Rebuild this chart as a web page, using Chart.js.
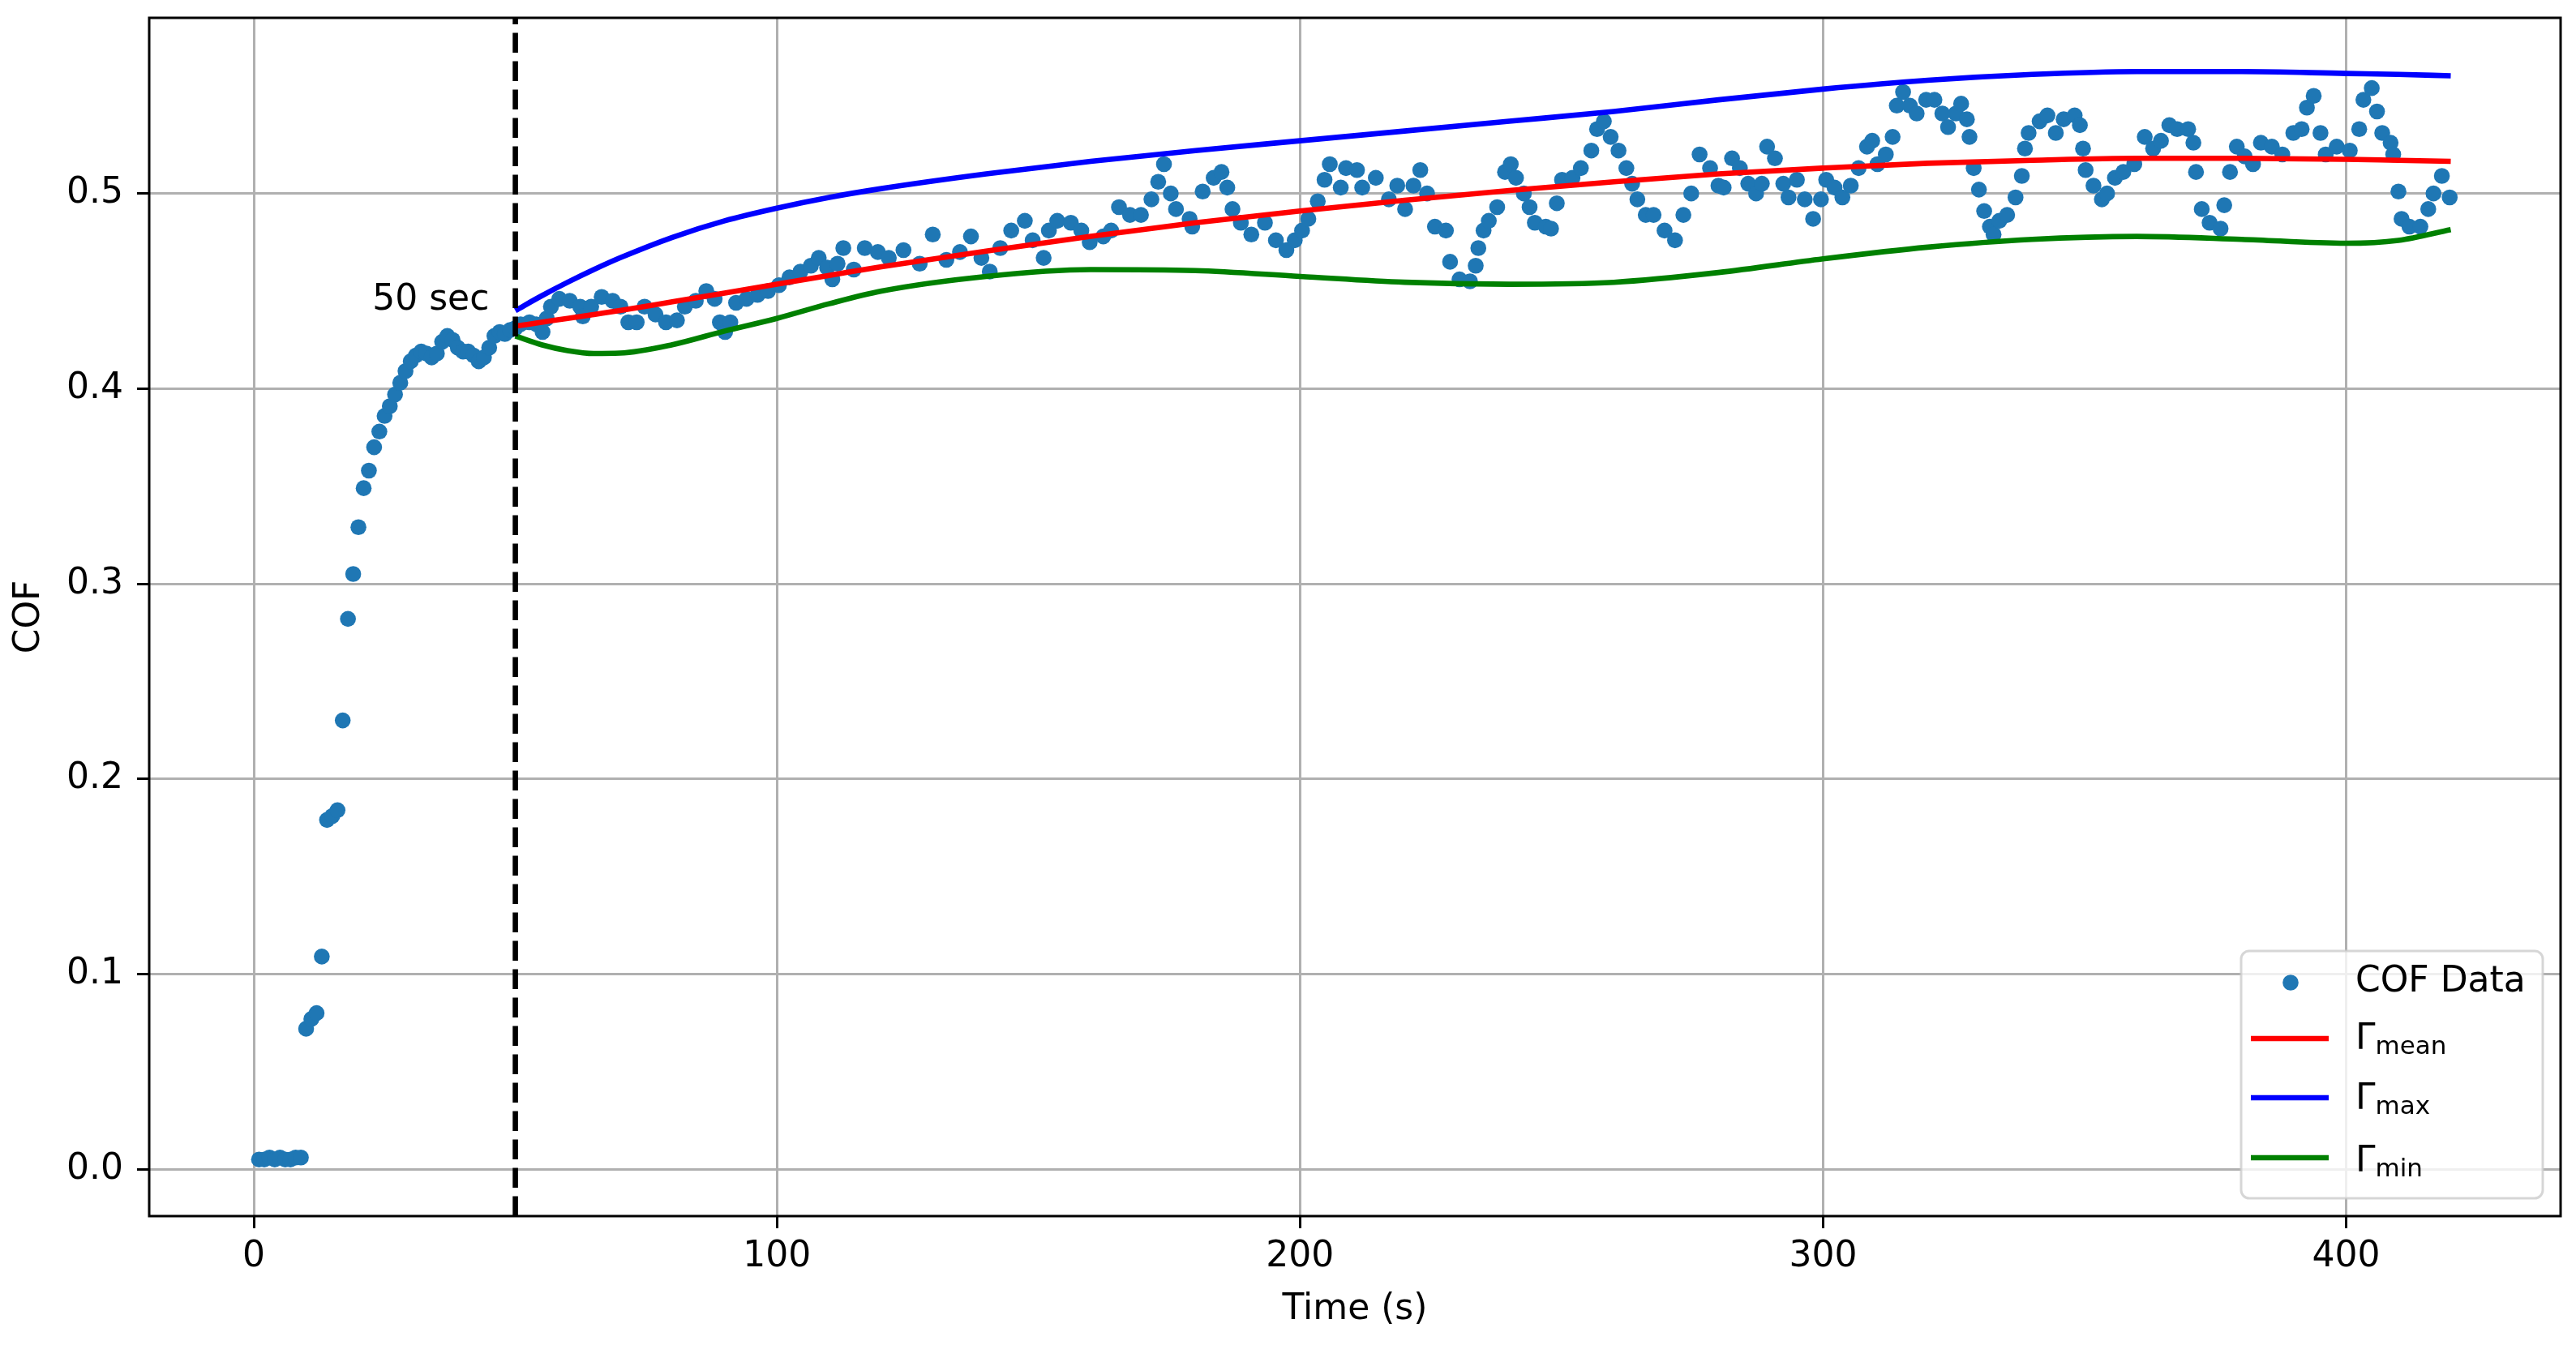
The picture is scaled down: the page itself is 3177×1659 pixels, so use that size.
<!DOCTYPE html>
<html>
<head>
<meta charset="utf-8">
<title>COF vs Time</title>
<script src="https://cdn.jsdelivr.net/npm/chart.js@4.4.1/dist/chart.umd.min.js"></script>
<style>
  html, body { margin: 0; padding: 0; background: #fff; }
  #chartBox { width: 3177px; height: 1659px; }
</style>
</head>
<body>
<div id="chartBox"><canvas id="cofChart" width="3177" height="1659"></canvas></div>
<script>
const cofTime = [
  1, 2, 3, 4, 5, 6, 7, 8, 9, 10, 11, 12, 13, 14, 15, 16, 17, 18, 19, 20, 21, 22, 23, 24, 25,
  26, 27, 28, 29, 30, 31, 32, 33, 34, 35, 36, 37, 38, 39, 40, 41, 42, 43, 44, 45, 46, 47, 48, 49, 50,
  51, 52.7, 54, 55.2, 56, 56.8, 58.4, 60.4, 62.4, 62.9, 64.5, 66.5, 68.6, 70.1, 71.6, 73.2, 74.7, 76.8, 78.8, 80.9, 82.4, 84.5,
  86.5, 88.1, 89.1, 90.1, 91.1, 92.2, 94.2, 96.3, 98.3, 100.4, 102.4, 104.5, 106.5, 108, 109.6, 110.6, 111.6, 112.7, 114.7, 116.8, 119.3, 121.4,
  124.2, 127.3, 129.8, 132.4, 135, 137.1, 139.1, 140.7, 142.7, 144.8, 147.4, 148.9, 151, 152, 153.6, 156.2, 158.2, 159.8, 162.4, 163.9, 165.4,
  167.5, 169.6, 171.6, 172.9, 174, 175.3, 176.3, 178.9, 179.4, 181.4, 183.5, 185, 186.1, 187.1, 188.7, 190.7, 193.3, 195.4, 197.4, 199,
  200.4, 201.6, 203.4, 204.7, 205.7, 207.8, 208.8, 210.9, 211.9, 214.5, 217, 218.6, 220.1, 221.7, 223, 224.3, 225.8, 227.9, 228.7, 230.5, 232.5,
  233.6, 234.1, 235.1, 236.1, 237.7, 239.2, 240.3, 241.3, 242.8, 243.9, 244.9, 247, 248, 249.1, 250.1, 252.1, 253.7, 255.7, 256.8, 258.1, 259.4,
  260.9, 262.4, 263.5, 264.5, 266.1, 267.6, 269.7, 271.7, 273.3, 274.8, 276.4,
  278.4, 280, 281, 282.6, 284.1, 285.7, 287.2, 288.3, 289.3, 290.8, 292.4, 293.4, 295, 296.5, 298.1, 299.6, 300.6, 302.2, 303.7, 305.3,
  306.8, 308.4, 309.4, 310.4, 312, 313.3, 314.1, 315.3, 316.6, 317.9, 319.7, 321.3, 322.8, 323.9, 325.4, 326.4, 327.5, 328, 328.8, 329.8,
  330.8, 331.9, 332.6, 333.7, 335.2, 336.8, 338, 338.6, 339.3, 341.4, 342.9, 344.5, 346, 348.1, 349.1, 349.7, 350.2, 351.7, 353.3,
  354.3, 355.8, 357.4, 359.5, 361.5, 363.1, 364.6, 366.2, 367.7, 369.8, 370.8, 371.3, 372.4, 373.9, 376, 376.7, 377.8, 379.1, 380.6, 382.2,
  383.7, 385.8, 387.8, 389.9, 391.5, 392.5, 393.8, 395.1, 396.1, 398.2, 400.7, 402.5, 403.3, 404.9, 405.9, 406.9, 408.5, 409, 410, 410.6,
  412.1, 414.2, 415.7, 416.7, 418.3, 419.8
];
const cofValue = [
  0.005, 0.005, 0.006, 0.005, 0.006, 0.005, 0.005, 0.006, 0.006, 0.072, 0.077, 0.080, 0.109, 0.179, 0.181, 0.184, 0.230, 0.282, 0.305, 0.329, 0.349, 0.358, 0.370, 0.378, 0.386,
  0.391, 0.397, 0.403, 0.409, 0.414, 0.417, 0.419, 0.418, 0.416, 0.418, 0.424, 0.427, 0.425, 0.421, 0.419, 0.419, 0.417, 0.414, 0.416, 0.421, 0.427, 0.429, 0.428, 0.430, 0.431,
  0.433, 0.434, 0.433, 0.429, 0.436, 0.442, 0.446, 0.445, 0.442, 0.437, 0.442, 0.447, 0.445, 0.442, 0.434, 0.434, 0.442, 0.438, 0.434, 0.435, 0.442, 0.445,
  0.450, 0.446, 0.434, 0.429, 0.434, 0.444, 0.446, 0.448, 0.450, 0.453, 0.457, 0.460, 0.463, 0.467, 0.462, 0.456, 0.464, 0.472, 0.461, 0.472, 0.470, 0.467,
  0.471, 0.464, 0.479, 0.466, 0.470, 0.478, 0.467, 0.460, 0.472, 0.481, 0.486, 0.476, 0.467, 0.481, 0.486, 0.485, 0.481, 0.475, 0.478, 0.481, 0.493,
  0.489, 0.489, 0.497, 0.506, 0.515, 0.500, 0.492, 0.487, 0.483, 0.501, 0.508, 0.511, 0.503, 0.492, 0.485, 0.479, 0.485, 0.476, 0.471, 0.476,
  0.481, 0.487, 0.496, 0.507, 0.515, 0.503, 0.513, 0.512, 0.503, 0.508, 0.497, 0.504, 0.492, 0.504, 0.512, 0.500, 0.483, 0.481, 0.465, 0.456, 0.455,
  0.463, 0.472, 0.481, 0.486, 0.493, 0.511, 0.515, 0.508, 0.500, 0.493, 0.485, 0.483, 0.482, 0.495, 0.507, 0.508, 0.513, 0.522, 0.533, 0.537, 0.529,
  0.522, 0.513, 0.505, 0.497, 0.489, 0.489, 0.481, 0.476, 0.489, 0.500, 0.520,
  0.513, 0.504, 0.503, 0.518, 0.513, 0.505, 0.500, 0.505, 0.524, 0.518, 0.505, 0.498, 0.507, 0.497, 0.487, 0.497, 0.507, 0.503, 0.498, 0.504,
  0.513, 0.524, 0.527, 0.515, 0.520, 0.529, 0.545, 0.552, 0.545, 0.541, 0.548, 0.548, 0.541, 0.534, 0.541, 0.546, 0.538, 0.529, 0.513, 0.502,
  0.491, 0.483, 0.479, 0.486, 0.489, 0.498, 0.509, 0.523, 0.531, 0.537, 0.540, 0.531, 0.538, 0.540, 0.535, 0.523, 0.512, 0.504, 0.497,
  0.500, 0.508, 0.511, 0.515, 0.529, 0.523, 0.527, 0.535, 0.533, 0.533, 0.526, 0.511, 0.492, 0.485, 0.482, 0.494, 0.511, 0.524, 0.519, 0.515,
  0.526, 0.524, 0.520, 0.531, 0.533, 0.544, 0.550, 0.531, 0.520, 0.524, 0.522, 0.533, 0.548, 0.554, 0.542, 0.531, 0.526, 0.520, 0.501, 0.487,
  0.483, 0.483, 0.492, 0.500, 0.509, 0.498
];

// Fitted curves after the 50 s run-in
const fitTime = [50, 55, 60, 65, 70, 80, 90, 100, 110, 120, 140, 160, 180, 200, 220, 240, 260, 280, 300, 320, 340, 360, 380, 400, 410, 420];
const meanValue = [0.432, 0.434, 0.436, 0.438, 0.440, 0.4445, 0.449, 0.4535, 0.458, 0.4625, 0.4705, 0.478, 0.485, 0.491, 0.4965, 0.5015, 0.506, 0.510, 0.513, 0.5155, 0.517, 0.518, 0.518, 0.5175, 0.517, 0.5165];
const maxValue = [0.440, 0.4475, 0.4545, 0.461, 0.467, 0.4775, 0.486, 0.4925, 0.498, 0.5025, 0.510, 0.5165, 0.522, 0.527, 0.532, 0.537, 0.542, 0.548, 0.5535, 0.558, 0.561, 0.5625, 0.5625, 0.5615, 0.561, 0.5603];
const minValue = [0.427, 0.4225, 0.4195, 0.418, 0.4182, 0.4225, 0.4295, 0.436, 0.4435, 0.450, 0.4575, 0.461, 0.4605, 0.4575, 0.4545, 0.4535, 0.4545, 0.4595, 0.4665, 0.4725, 0.4765, 0.478, 0.4765, 0.4745, 0.476, 0.4815];

const xTicks = [0, 100, 200, 300, 400];
const yTicks = [0, 0.1, 0.2, 0.3, 0.4, 0.5];

const runInTime = 50;
const runInLabel = '50 sec';

const legendLabels = ['COF Data', 'Γ', 'Γ', 'Γ'];
const legendSubs = ['', 'mean', 'max', 'min'];
const legendColors = ['#1f77b4', 'red', 'blue', 'green'];

const FONT = '"DejaVu Sans", "Liberation Sans", sans-serif';

if (cofTime.length !== cofValue.length) console.error('cof arrays differ', cofTime.length, cofValue.length);

// Helper to zip two arrays into {x, y} points
function toPoints(xs, ys) {
  return xs.map((x, i) => ({ x: x, y: ys[i] }));
}

// Function to draw the legend box in the lower right corner
function drawLegend(chart) {
  const ctx = chart.ctx;
  const area = chart.chartArea;
  const boxW = 372;
  const boxH = 305;
  const left = area.right - 22 - boxW;
  const top = area.bottom - 22 - boxH;
  const handleY = [39, 108, 181, 255];
  const textY = [50, 121, 195, 272];

  ctx.save();
  ctx.beginPath();
  ctx.roundRect(left, top, boxW, boxH, 10);
  ctx.fillStyle = 'rgba(255,255,255,0.8)';
  ctx.fill();
  ctx.lineWidth = 3;
  ctx.strokeStyle = 'rgba(204,204,204,0.8)';
  ctx.stroke();

  legendLabels.forEach((label, i) => {
    ctx.fillStyle = legendColors[i];
    ctx.strokeStyle = legendColors[i];
    if (i === 0) {
      ctx.beginPath();
      ctx.arc(left + 61, top + handleY[i], 9.8, 0, Math.PI * 2);
      ctx.fill();
    } else {
      ctx.lineWidth = 6.6;
      ctx.lineCap = 'butt';
      ctx.beginPath();
      ctx.moveTo(left + 12, top + handleY[i]);
      ctx.lineTo(left + 108, top + handleY[i]);
      ctx.stroke();
    }
    ctx.fillStyle = '#000';
    ctx.textAlign = 'left';
    ctx.textBaseline = 'alphabetic';
    ctx.font = '44px ' + FONT;
    ctx.fillText(label, left + 141, top + textY[i]);
    if (legendSubs[i]) {
      const w = ctx.measureText(label).width;
      ctx.font = '31px ' + FONT;
      ctx.fillText(legendSubs[i], left + 141 + w, top + textY[i] + 6);
    }
  });
  ctx.restore();
}

// Plugin for the run-in marker, the frame and the legend
const overlayPlugin = {
  id: 'overlay',
  afterDatasetsDraw(chart) {
    const ctx = chart.ctx;
    const area = chart.chartArea;
    const xScale = chart.scales.x;
    const yScale = chart.scales.y;
    const xPix = xScale.getPixelForValue(runInTime);

    ctx.save();
    ctx.strokeStyle = '#000';
    ctx.lineWidth = 6.6;
    ctx.lineCap = 'butt';
    ctx.setLineDash([24.5, 10.5]);
    ctx.beginPath();
    ctx.moveTo(xPix, area.bottom);
    ctx.lineTo(xPix, area.top);
    ctx.stroke();
    ctx.setLineDash([]);

    ctx.fillStyle = '#000';
    ctx.font = '44px ' + FONT;
    ctx.textAlign = 'right';
    ctx.textBaseline = 'alphabetic';
    ctx.fillText(runInLabel, xScale.getPixelForValue(45), yScale.getPixelForValue(0.4405));

    ctx.lineWidth = 3;
    ctx.strokeRect(area.left, area.top, area.right - area.left, area.bottom - area.top);
    ctx.restore();

    drawLegend(chart);
  }
};

const tickFont = { family: FONT, size: 44 };

const cofChartCtx = document.getElementById('cofChart').getContext('2d');
new Chart(cofChartCtx, {
  type: 'scatter',
  data: {
    datasets: [
      {
        label: 'COF Data',
        data: toPoints(cofTime, cofValue),
        backgroundColor: '#1f77b4',
        pointRadius: 9.8,
        pointBorderWidth: 0,
        order: 4
      },
      {
        label: 'Γmean',
        type: 'line',
        data: toPoints(fitTime, meanValue),
        borderColor: 'red',
        borderWidth: 6.6,
        pointRadius: 0,
        cubicInterpolationMode: 'monotone',
        fill: false,
        order: 3
      },
      {
        label: 'Γmax',
        type: 'line',
        data: toPoints(fitTime, maxValue),
        borderColor: 'blue',
        borderWidth: 6.6,
        pointRadius: 0,
        cubicInterpolationMode: 'monotone',
        fill: false,
        order: 2
      },
      {
        label: 'Γmin',
        type: 'line',
        data: toPoints(fitTime, minValue),
        borderColor: 'green',
        borderWidth: 6.6,
        pointRadius: 0,
        cubicInterpolationMode: 'monotone',
        fill: false,
        order: 1
      }
    ]
  },
  options: {
    responsive: false,
    animation: false,
    devicePixelRatio: 1,
    layout: { padding: { top: 22, right: 19, left: 0, bottom: 0 } },
    plugins: {
      legend: { display: false },
      tooltip: { enabled: false }
    },
    scales: {
      x: {
        type: 'linear',
        min: -20,
        max: 441,
        afterFit: (scale) => {
          scale.height = 159;
          scale.paddingLeft = 0;
          scale.paddingRight = 0;
        },
        afterBuildTicks: (scale) => { scale.ticks = xTicks.map(v => ({ value: v })); },
        grid: { color: '#b0b0b0', lineWidth: 3, tickColor: '#000', tickWidth: 3, tickLength: 15 },
        border: { display: false },
        ticks: { color: '#000', font: tickFont, padding: 9, maxRotation: 0, autoSkip: false, callback: (v) => String(v) },
        title: { display: true, text: 'Time (s)', color: '#000', font: tickFont, padding: { top: 0, bottom: 17 } }
      },
      y: {
        type: 'linear',
        min: -0.024,
        max: 0.590,
        afterFit: (scale) => {
          scale.width = 184;
          scale.paddingTop = 0;
          scale.paddingBottom = 0;
        },
        afterBuildTicks: (scale) => { scale.ticks = yTicks.map(v => ({ value: v })); },
        grid: { color: '#b0b0b0', lineWidth: 3, tickColor: '#000', tickWidth: 3, tickLength: 15 },
        border: { display: false },
        ticks: { color: '#000', font: tickFont, padding: 17, autoSkip: false, callback: (v) => v.toFixed(1) },
        title: { display: true, text: 'COF', color: '#000', font: tickFont, padding: { top: 10, bottom: 0 } }
      }
    }
  },
  plugins: [overlayPlugin]
});
</script>
</body>
</html>
